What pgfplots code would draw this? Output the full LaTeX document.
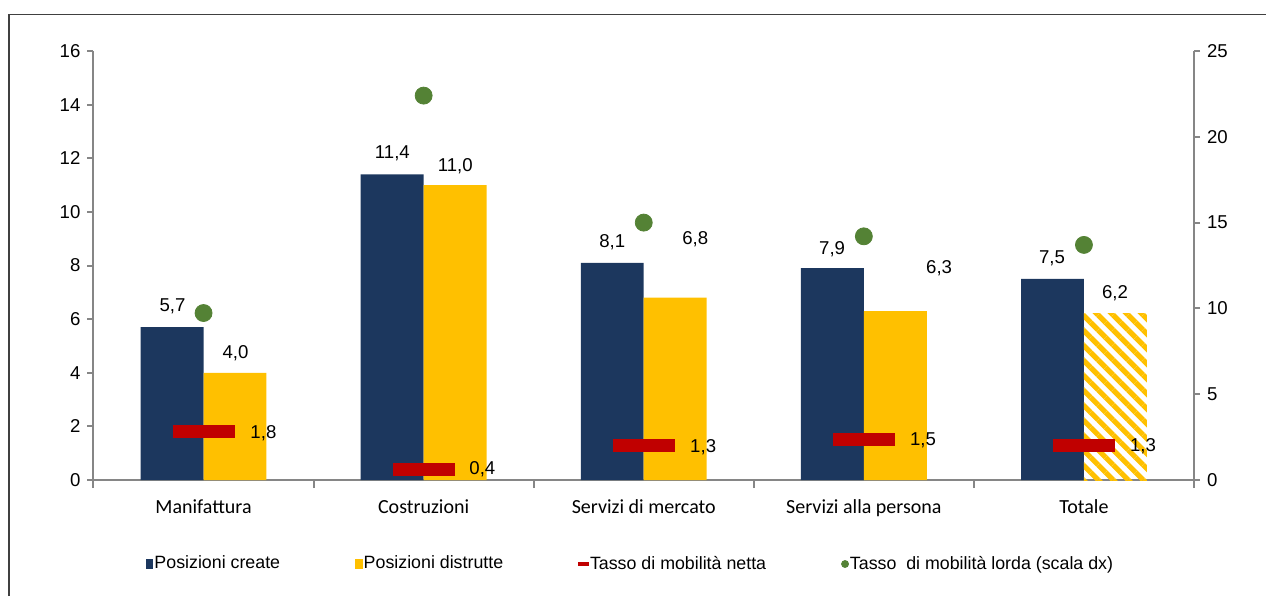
\documentclass[border=0pt]{standalone}
\usepackage{pgfplots}
\pgfplotsset{compat=1.18}
\usetikzlibrary{patterns.meta}
\usepackage{fontspec}
\setmainfont{Liberation Sans}
\newfontfamily\carlito{Carlito}
\definecolor{cblue}{HTML}{1C375E}
\definecolor{cyellow}{HTML}{FFC000}
\definecolor{cred}{HTML}{C00000}
\definecolor{cgreen}{HTML}{548235}
\definecolor{caxis}{HTML}{868686}
\definecolor{cframe}{HTML}{404040}
\newcommand{\numfont}{\fontsize{9.3}{11}\selectfont}
\begin{document}
\begin{tikzpicture}[x=1pt,y=1pt]
\useasboundingbox (0,0) rectangle (633,298);
\draw[cframe, line width=0.7pt] (4.5,0) -- (4.5,290.7) -- (633,290.7);
\begin{axis}[
  at={(46.75pt,58pt)}, anchor=south west,
  scale only axis, width=550.25pt, height=214.5pt,
  xmin=-0.5, xmax=4.5, ymin=0, ymax=16,
  ytick={0,2,...,16},
  xtick={0,1,2,3,4},
  xticklabels={Manifattura,Costruzioni,Servizi di mercato,Servizi alla persona,Totale},
  minor xtick={-0.5,0.5,1.5,2.5,3.5,4.5},
  major x tick style={draw=none},
  axis x line*=bottom, axis y line*=left,
  axis line style={-, draw=caxis, line width=1pt},
  tick style={draw=caxis, line width=1pt},
  tick align=outside,
  major tick length=3pt, minor tick length=4pt,
  bar width=0.286,
  /pgf/number format/assume math mode=true,
  yticklabel style={font=\numfont},
  xticklabel style={font=\carlito\fontsize{10}{12}\selectfont, yshift=-3.5pt},
  legend columns=4,
  legend style={at={(0.4875,-0.1958)}, anchor=center, draw=none,
    font=\fontsize{8.9}{10}\selectfont,
    nodes={inner xsep=0.5pt},
    /tikz/every even column/.append style={column sep=37pt}},
]
\addplot[ybar, bar shift=-0.143, fill=cblue, draw=none,
  legend image code/.code={\fill[cblue] (0pt,-2.65pt) rectangle (3.8pt,2.65pt);}]
  coordinates {(0,5.7) (1,11.4) (2,8.1) (3,7.9) (4,7.5)};
\addlegendentry{Posizioni create}
\addplot[ybar, bar shift=0.143, fill=cyellow, draw=none,
  legend image code/.code={\fill[cyellow] (0pt,-2.65pt) rectangle (3.8pt,2.65pt);}]
  coordinates {(0,4.0) (1,11.0) (2,6.8) (3,6.3)};
\addlegendentry{Posizioni distrutte}
\addplot[ybar, bar shift=0.143, draw=none, forget plot,
  pattern={Lines[angle=-45,distance=5.3pt,line width=2.6pt]}, pattern color=cyellow]
  coordinates {(4,6.2)};
\addplot[cred, only marks, mark=-, mark size=15.5pt, mark options={line width=6.5pt},
  legend image code/.code={\fill[cred] (0pt,-0.75pt) rectangle (5pt,0.75pt);}]
  coordinates {(0,1.8) (1,0.4) (2,1.3) (3,1.5) (4,1.3)};
\addlegendentry{Tasso di mobilità netta}
\addlegendimage{legend image code/.code={\fill[cgreen] (1.75pt,0pt) circle (1.75pt);}}
\addlegendentry{Tasso\ \ di mobilità lorda (scala dx)}
% data labels
\node[font=\numfont] at (axis cs:-0.141,6.49) {5,7};
\node[font=\numfont] at (axis cs:0.145,4.74) {4,0};
\node[font=\numfont] at (axis cs:0.272,1.75) {1,8};
\node[font=\numfont] at (axis cs:0.858,12.20) {11,4};
\node[font=\numfont] at (axis cs:1.144,11.71) {11,0};
\node[font=\numfont] at (axis cs:1.267,0.41) {0,4};
\node[font=\numfont] at (axis cs:1.857,8.88) {8,1};
\node[font=\numfont] at (axis cs:2.234,8.99) {6,8};
\node[font=\numfont] at (axis cs:2.270,1.23) {1,3};
\node[font=\numfont] at (axis cs:2.856,8.62) {7,9};
\node[font=\numfont] at (axis cs:3.342,7.91) {6,3};
\node[font=\numfont] at (axis cs:3.269,1.49) {1,5};
\node[font=\numfont] at (axis cs:3.855,8.28) {7,5};
\node[font=\numfont] at (axis cs:4.141,6.97) {6,2};
\node[font=\numfont] at (axis cs:4.268,1.27) {1,3};
\end{axis}
\begin{axis}[
  at={(46.75pt,58pt)}, anchor=south west,
  scale only axis, width=550.25pt, height=214.5pt,
  xmin=-0.5, xmax=4.5, ymin=0, ymax=25,
  ytick={0,5,...,25},
  axis y line*=right, axis x line=none,
  axis line style={-, draw=caxis, line width=1pt},
  tick style={draw=caxis, line width=1pt},
  tick align=outside,
  major tick length=3pt,
  /pgf/number format/assume math mode=true,
  yticklabel style={font=\numfont},
]
\addplot[cgreen, only marks, mark=*, mark size=4.25pt, mark options={fill=cgreen, draw=cgreen}]
  coordinates {(0,9.73) (1,22.4) (2,15.0) (3,14.2) (4,13.7)};
\end{axis}
\end{tikzpicture}
\end{document}
